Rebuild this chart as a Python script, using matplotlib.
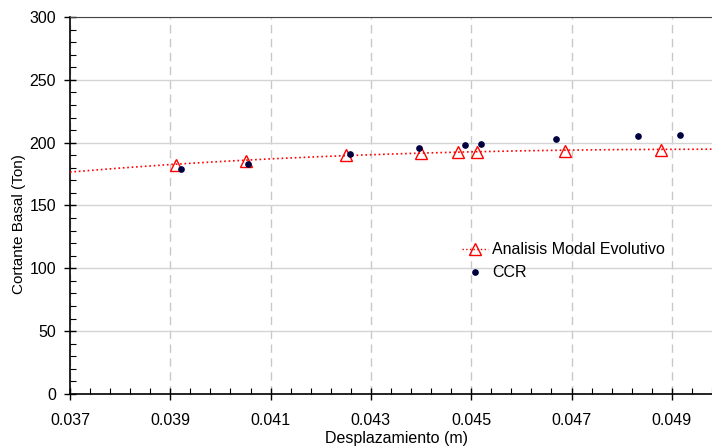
import numpy as np
import matplotlib.pyplot as plt
from matplotlib.ticker import MultipleLocator, FormatStrFormatter

plt.rcParams['font.family'] = ['Liberation Sans', 'DejaVu Sans']

# Analisis Modal Evolutivo (triangles)
ame_x = [0.03911, 0.04050, 0.04251, 0.04399, 0.04474, 0.04511, 0.04687, 0.04879]
ame_y = [182.5, 185.5, 190.0, 192.0, 192.6, 192.6, 193.0, 194.2]

# trend line
trend_x = [0.0370, 0.0380, 0.0390, 0.0400, 0.0410, 0.0420, 0.0430, 0.0440,
           0.0450, 0.0460, 0.0470, 0.0480, 0.0490, 0.0498]
trend_y = [176.6, 179.8, 182.6, 185.0, 187.1, 188.9, 190.4, 191.7,
           192.7, 193.5, 194.1, 194.5, 194.7, 194.8]

# CCR (dots)
ccr_x = [0.03921, 0.04055, 0.04258, 0.04395, 0.04488, 0.04520, 0.04669, 0.04833, 0.04917]
ccr_y = [178.8, 183.3, 190.7, 195.7, 198.1, 199.2, 203.2, 205.3, 205.8]

fig = plt.figure(figsize=(7.12, 4.46), dpi=100)
ax = fig.add_axes([0.0983, 0.1166, 0.9017, 0.8453])

red = '#ff0000'
navy = '#000040'

ax.plot(trend_x, trend_y, color=red, linestyle=':', linewidth=1.2, zorder=3)
ax.plot(ame_x, ame_y, linestyle='none', marker='^', markersize=9,
        markerfacecolor='none', markeredgecolor=red, markeredgewidth=1.0, zorder=4)
ax.plot(ccr_x, ccr_y, linestyle='none', marker='o', markersize=3.8,
        color=navy, zorder=5)

# legend proxies
ax.plot([], [], color=red, linestyle=':', linewidth=1.0, marker='^', markersize=9,
        markerfacecolor='none', markeredgecolor=red, label='Analisis Modal Evolutivo')
ax.plot([], [], linestyle='none', marker='o', markersize=3.8, color=navy, label='CCR')

ax.set_xlim(0.037, 0.0498)
ax.set_ylim(0, 300)
ax.xaxis.set_major_locator(MultipleLocator(0.002, offset=0.001))
ax.xaxis.set_minor_locator(MultipleLocator(0.0004, offset=0.0002))
ax.xaxis.set_major_formatter(FormatStrFormatter('%.3f'))
ax.yaxis.set_major_locator(MultipleLocator(50))
ax.yaxis.set_minor_locator(MultipleLocator(10))

ax.grid(axis='y', which='major', color='#d4d4d4', linestyle='-', linewidth=1.0)
ax.grid(axis='x', which='major', color='#c8c8c8', linestyle=(0, (6, 4)), linewidth=1.0)
ax.set_axisbelow(True)

ax.tick_params(which='major', direction='inout', length=8, width=1.0, labelsize=11.5,
               colors='black', pad=6)
ax.tick_params(which='minor', direction='in', length=4, width=0.8)
ax.tick_params(axis='x', pad=10)

ax.spines['right'].set_visible(False)
ax.spines['top'].set_color('#444444')
ax.spines['left'].set_linewidth(1.2)
ax.spines['bottom'].set_linewidth(1.2)

ax.set_xlabel('Desplazamiento (m)', fontsize=11.5)
ax.set_ylabel('Cortante Basal (Ton)', fontsize=11)
ax.xaxis.set_label_coords(0.509, -0.099)
ax.yaxis.set_label_coords(-0.069, 0.452)

ax.legend(loc='center left', bbox_to_anchor=(0.6006, 0.3515), frameon=False,
          fontsize=11.5, handlelength=1.66, handletextpad=0.25, labelspacing=0.5,
          borderaxespad=0)

fig.savefig('out.png', dpi=100)
